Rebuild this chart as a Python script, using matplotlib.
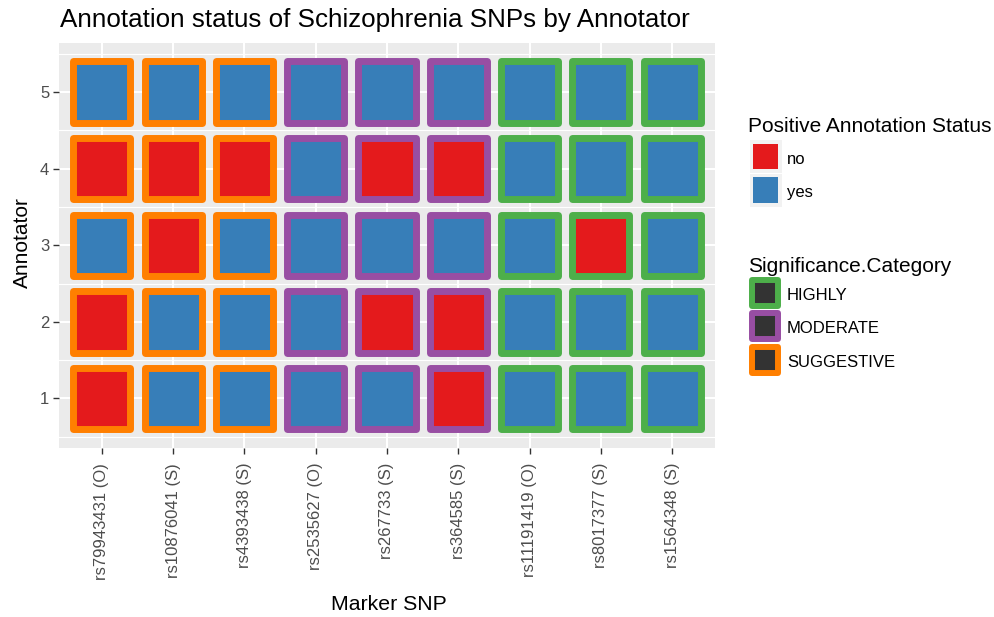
import matplotlib.pyplot as plt
from matplotlib.patches import Rectangle

W, H = 995, 617

SNPS = [
    "rs79943431 (O)", "rs10876041 (S)", "rs4393438 (S)",
    "rs2535627 (O)", "rs267733 (S)", "rs364585 (S)",
    "rs11191419 (O)", "rs8017377 (S)", "rs1564348 (S)",
]
CATEGORY = [
    "SUGGESTIVE", "SUGGESTIVE", "SUGGESTIVE",
    "MODERATE", "MODERATE", "MODERATE",
    "HIGHLY", "HIGHLY", "HIGHLY",
]
ANNOTATORS = [1, 2, 3, 4, 5]
# positive annotation status per annotator, one entry per SNP
STATUS = {
    1: ["no", "yes", "yes", "yes", "yes", "no", "yes", "yes", "yes"],
    2: ["no", "yes", "yes", "yes", "no", "no", "yes", "yes", "yes"],
    3: ["yes", "no", "yes", "yes", "yes", "yes", "yes", "no", "yes"],
    4: ["no", "no", "no", "yes", "no", "no", "yes", "yes", "yes"],
    5: ["yes", "yes", "yes", "yes", "yes", "yes", "yes", "yes", "yes"],
}
FILL_LEVELS = ["no", "yes"]
FILL_COLORS = {"no": "#E41A1C", "yes": "#377EB8"}
CAT_LEVELS = ["HIGHLY", "MODERATE", "SUGGESTIVE"]
CAT_COLORS = {"HIGHLY": "#4DAF4A", "MODERATE": "#984EA3", "SUGGESTIVE": "#FF7F00"}

plt.rcParams["font.family"] = ["Liberation Sans", "DejaVu Sans"]


def px_rect(x0, y0, w, h, **kw):
    # rectangle given in pixel coordinates from the top left corner
    return Rectangle((x0 / W, 1 - (y0 + h) / H), w / W, h / H,
                     transform=fig.transFigure, **kw)


fig = plt.figure(figsize=(W / 100, H / 100), dpi=100)
ax = fig.add_axes([59 / W, 1 - 447.5 / H, 656 / W, 404.5 / H])
ax.set_facecolor("#EBEBEB")
for s in ax.spines.values():
    s.set_visible(False)

xs = list(range(1, len(SNPS) + 1))
for a in ANNOTATORS:
    for x, st, cat in zip(xs, STATUS[a], CATEGORY):
        bars = ax.bar(x, 0.8, bottom=a - 0.4, width=0.8,
                      color=FILL_COLORS[st], edgecolor=CAT_COLORS[cat],
                      linewidth=5.0, zorder=3)
        for b in bars:
            b.set_joinstyle("round")

ax.set_xlim(0.4, len(SNPS) + 0.6)
ax.set_ylim(0.36, 5.64)
ax.set_xticks(xs)
ax.set_xticklabels(SNPS, rotation=90, va="top", ha="center")
ax.set_yticks(ANNOTATORS)
ax.set_yticks([a - 0.5 for a in ANNOTATORS] + [5.5], minor=True)
ax.grid(True, which="major", color="white", linewidth=1.5, zorder=1)
ax.grid(True, which="minor", axis="y", color="white", linewidth=0.8, zorder=1)
ax.set_axisbelow(True)
ax.tick_params(axis="both", which="major", length=4, width=1, color="#333333",
               labelsize=12, labelcolor="#4D4D4D")
ax.tick_params(axis="x", pad=7)
ax.tick_params(axis="y", pad=3)
ax.tick_params(which="minor", length=0)

fig.text(22 / W, 1 - 243 / H, "Annotator", rotation=90, fontsize=15,
         ha="center", va="center")
fig.text(389 / W, 1 - 605 / H, "Marker SNP", fontsize=15.3,
         ha="center", va="center")
fig.text(60 / W, 1 - 27.3 / H, "Annotation status of Schizophrenia SNPs by Annotator",
         fontsize=18.7, ha="left", va="baseline")

# legend: fill
fig.text(748 / W, 1 - 131.5 / H, "Positive Annotation Status", fontsize=15,
         ha="left", va="baseline")
for i, lvl in enumerate(FILL_LEVELS):
    top = 140 + i * 34
    fig.add_artist(px_rect(750, top, 32, 33, facecolor="#F2F2F2", edgecolor="none"))
    fig.add_artist(px_rect(753, top + 3.5, 25, 25.5, facecolor=FILL_COLORS[lvl],
                           edgecolor="none"))
    fig.text(787 / W, 1 - (top + 19) / H, lvl, fontsize=12, ha="left", va="center")

# legend: border colour
fig.text(748 / W, 1 - 271.5 / H, "Significance.Category", fontsize=15,
         ha="left", va="baseline")
for i, lvl in enumerate(CAT_LEVELS):
    top = 277 + i * 33.3
    r = px_rect(752, top + 3, 26, 26, facecolor="#333333",
                edgecolor=CAT_COLORS[lvl], linewidth=4.3)
    r.set_joinstyle("round")
    fig.add_artist(r)
    fig.text(787 / W, 1 - (top + 18.5) / H, lvl, fontsize=12, ha="left", va="center")

fig.savefig("out.png", dpi=100)
